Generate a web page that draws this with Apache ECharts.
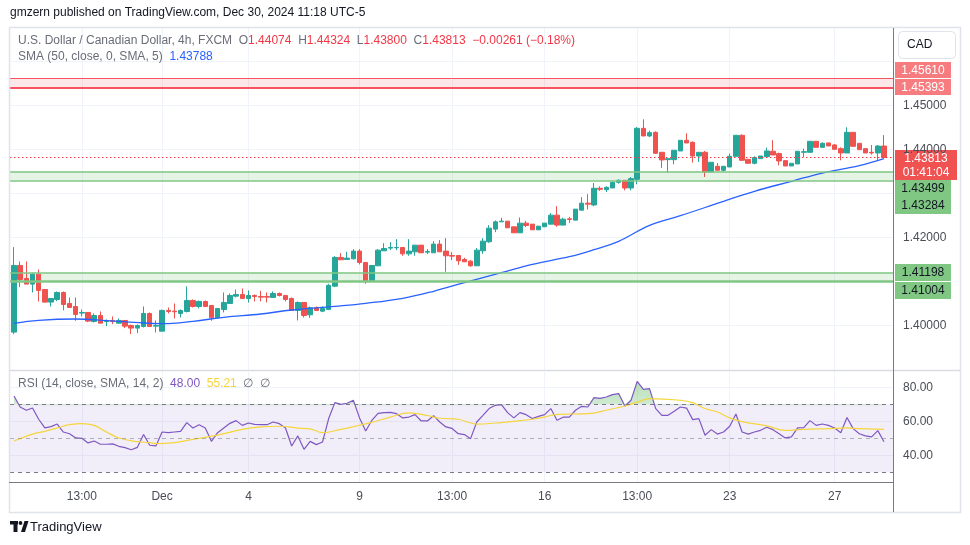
<!DOCTYPE html>
<html>
<head>
<meta charset="utf-8">
<script src="https://cdn.jsdelivr.net/npm/echarts@6/dist/echarts.min.js"></script>
<style>
  html, body { margin: 0; padding: 0; background: #fff; }
  #chart { width: 970px; height: 545px; }
</style>
</head>
<body>
<div id="chart"></div>
<script>
// USD/CAD 4h candles
const opens = [1.39845,1.41360,1.41064,1.40936,1.41163,1.40814,1.40527,1.40587,1.40746,1.40496,1.40428,1.40277,1.40292,1.40087,1.40223,1.40087,1.40110,1.40049,1.40110,1.39996,
  1.39936,1.39973,1.40269,1.39981,1.39867,1.40337,1.40322,1.40269,1.40314,1.40564,1.40428,1.40542,1.40451,1.40170,1.40360,1.40496,1.40663,1.40701,1.40610,1.40678,
  1.40655,1.40655,1.40633,1.40723,1.40678,1.40610,1.40337,1.40519,1.40239,1.40398,1.40322,1.40360,1.40890,1.41542,1.41496,1.41511,1.41686,1.41428,1.41011,1.41352,
  1.41693,1.41754,1.41762,1.41769,1.41625,1.41670,1.41822,1.41663,1.41648,1.41845,1.41686,1.41587,1.41587,1.41496,1.41458,1.41352,1.41693,1.41898,1.42186,1.42352,
  1.42367,1.42239,1.42102,1.42322,1.42299,1.42170,1.42239,1.42299,1.42504,1.42277,1.42420,1.42390,1.42617,1.42776,1.42735,1.43114,1.43083,1.43121,1.43250,1.43295,
  1.43121,1.43318,1.44477,1.44303,1.44386,1.43932,1.43765,1.43765,1.43962,1.44205,1.44159,1.43848,1.43932,1.43485,1.43614,1.43523,1.43598,1.43841,1.44318,1.43773,
  1.43682,1.43788,1.43833,1.43955,1.43902,1.43742,1.43621,1.43667,1.43932,1.43932,1.44182,1.44045,1.44144,1.44098,1.44015,1.43917,1.44386,1.44136,1.44015,1.43932,
  1.43917,1.44074];
const highs = [1.41777,1.41451,1.41451,1.41193,1.41269,1.40814,1.40610,1.40769,1.40769,1.40633,1.40633,1.40360,1.40292,1.40269,1.40314,1.40133,1.40201,1.40155,1.40110,1.40019,
  1.40019,1.40428,1.40292,1.40110,1.40360,1.40405,1.40496,1.40360,1.40883,1.40587,1.40564,1.40564,1.40451,1.40383,1.40746,1.40723,1.40814,1.40837,1.40792,1.40701,
  1.40784,1.40746,1.40769,1.40746,1.40678,1.40633,1.40542,1.40519,1.40428,1.40428,1.40428,1.40943,1.41572,1.41640,1.41670,1.41731,1.41731,1.41428,1.41360,1.41731,
  1.41867,1.41890,1.41958,1.41769,1.41958,1.41822,1.41822,1.41731,1.41913,1.41936,1.41981,1.41663,1.41587,1.41534,1.41481,1.41754,1.41981,1.42277,1.42383,1.42443,
  1.42367,1.42239,1.42451,1.42375,1.42299,1.42254,1.42322,1.42549,1.42708,1.42443,1.42466,1.42640,1.42912,1.42981,1.43235,1.43159,1.43159,1.43273,1.43318,1.43295,
  1.43371,1.44508,1.44682,1.44424,1.44409,1.43932,1.43788,1.43977,1.44205,1.44364,1.44182,1.43932,1.43962,1.43705,1.43689,1.43614,1.43902,1.44318,1.44341,1.43773,
  1.43841,1.43848,1.44038,1.44205,1.43924,1.43742,1.43682,1.43955,1.44015,1.44182,1.44182,1.44159,1.44144,1.44121,1.44045,1.44500,1.44386,1.44136,1.44015,1.44098,
  1.44098,1.44324];
const lows = [1.39799,1.40867,1.40936,1.40746,1.40542,1.40527,1.40428,1.40549,1.40337,1.40405,1.40102,1.40201,1.40072,1.40064,1.40049,1.39981,1.40027,1.40034,1.39936,1.39799,
  1.39822,1.39951,1.39973,1.39837,1.39867,1.40269,1.40155,1.40178,1.40292,1.40405,1.40383,1.40428,1.40102,1.40148,1.40292,1.40496,1.40633,1.40610,1.40519,1.40542,
  1.40542,1.40519,1.40633,1.40655,1.40542,1.40337,1.40110,1.40178,1.40170,1.40322,1.40299,1.40345,1.40867,1.41489,1.41496,1.41496,1.41383,1.40943,1.41011,1.41352,
  1.41693,1.41708,1.41708,1.41580,1.41580,1.41580,1.41648,1.41617,1.41648,1.41670,1.41216,1.41481,1.41375,1.41443,1.41330,1.41352,1.41625,1.41875,1.42117,1.42352,
  1.42216,1.42102,1.42102,1.42231,1.42170,1.42170,1.42239,1.42299,1.42239,1.42277,1.42330,1.42390,1.42617,1.42633,1.42705,1.43053,1.43030,1.43121,1.43220,1.43068,
  1.43068,1.43205,1.44303,1.44280,1.43894,1.43576,1.43462,1.43659,1.43962,1.44144,1.43697,1.43712,1.43371,1.43485,1.43523,1.43485,1.43598,1.43841,1.43735,1.43682,
  1.43659,1.43788,1.43833,1.43871,1.43636,1.43621,1.43621,1.43667,1.43826,1.43932,1.44045,1.44030,1.44076,1.44000,1.43750,1.43917,1.44068,1.43992,1.43917,1.43879,
  1.43750,1.43800];
const closes = [1.41360,1.41042,1.40936,1.41163,1.40792,1.40527,1.40610,1.40746,1.40473,1.40405,1.40246,1.40292,1.40095,1.40223,1.40049,1.40110,1.40087,1.40110,1.39981,1.39936,
  1.39996,1.40269,1.39973,1.39996,1.40337,1.40314,1.40307,1.40337,1.40564,1.40428,1.40542,1.40428,1.40170,1.40383,1.40519,1.40678,1.40701,1.40610,1.40678,1.40655,
  1.40640,1.40640,1.40723,1.40678,1.40587,1.40337,1.40519,1.40223,1.40398,1.40337,1.40383,1.40909,1.41542,1.41489,1.41527,1.41686,1.41428,1.41011,1.41360,1.41708,
  1.41746,1.41769,1.41769,1.41625,1.41686,1.41822,1.41648,1.41678,1.41845,1.41670,1.41580,1.41572,1.41466,1.41443,1.41352,1.41708,1.41913,1.42208,1.42352,1.42367,
  1.42216,1.42102,1.42322,1.42269,1.42170,1.42254,1.42322,1.42504,1.42277,1.42413,1.42405,1.42640,1.42776,1.42754,1.43114,1.43091,1.43136,1.43250,1.43295,1.43121,
  1.43333,1.44477,1.44303,1.44379,1.43909,1.43758,1.43788,1.43977,1.44205,1.44144,1.43848,1.43932,1.43485,1.43705,1.43523,1.43614,1.43841,1.44318,1.43750,1.43682,
  1.43811,1.43848,1.43962,1.43871,1.43735,1.43621,1.43682,1.43955,1.43947,1.44182,1.44045,1.44136,1.44076,1.44000,1.43917,1.44386,1.44068,1.43992,1.43917,1.43917,
  1.44074,1.43813];

// SMA(50) line, sampled along its path [candle index, value]
const smaPoints = [[0,1.40045],[4,1.40114],[10,1.40143],[15,1.40107],[21,1.40052],[24,1.40039],[29,1.40091],[34,1.40182],[40,1.40257],[45,1.40348],
  [52,1.40432],[57,1.40500],[63,1.40614],[68,1.40773],[73,1.40970],[79,1.41198],[84,1.41386],[90,1.41561],[94,1.41720],[98,1.41909],
  [103,1.42273],[108,1.42490],[115,1.42818],[120,1.43045],[126,1.43273],[131,1.43461],[137,1.43630],[141,1.43788]];

// RSI(14) per candle
const rsiValues = [74.9,68.4,66.5,67.8,61.2,56.1,56.9,58.4,53.7,52.7,50.2,50.0,47.3,48.4,46.5,46.5,46.7,45.3,44.5,43.3,
  44.7,52.2,45.9,45.5,53.7,53.3,53.7,54.1,59.2,56.1,58.0,56.1,48.2,53.3,56.1,58.8,60.4,57.6,59.0,58.2,
  58.0,58.0,59.6,58.6,56.1,45.5,51.4,43.5,48.2,46.3,47.8,61.6,71.0,70.0,70.6,72.4,62.0,54.3,60.6,64.7,
  65.1,65.3,64.5,62.0,62.5,63.9,60.2,60.2,63.3,59.6,56.7,55.8,52.7,52.2,49.8,59.6,63.5,67.5,69.4,69.8,
  65.1,62.0,65.1,63.9,61.6,62.9,63.9,67.5,60.6,62.4,62.4,66.5,68.8,68.4,73.9,73.5,74.3,75.7,76.3,69.0,
  72.4,83.5,78.8,79.2,67.5,63.5,63.5,65.9,68.4,67.8,61.0,61.6,51.8,55.1,52.5,53.7,57.1,64.3,53.7,52.5,
  53.7,54.7,56.5,55.1,52.7,50.2,50.8,56.1,56.3,60.4,57.6,58.4,57.6,56.1,53.3,62.2,55.7,52.7,51.4,50.8,
  54.5,48.0];

// RSI-based SMA(14), sampled along its path
const rsiMaPoints = [[0,48.4],[3,52.5],[5,54.1],[7,56.1],[9,58.0],[11,58.6],[13,57.6],[15,53.7],[17,50.2],[20,48.0],
  [22,47.5],[23,46.9],[26,47.5],[29,49.4],[33,51.9],[37,55.3],[40,56.7],[43,57.1],[46,56.0],[48,55.6],
  [50,53.3],[53,55.3],[56,57.7],[58,59.4],[61,62.5],[64,65.0],[67,63.4],[69,61.8],[72,61.2],[75,58.3],
  [78,59.0],[81,60.0],[84,61.2],[86,62.5],[88,64.1],[93,64.5],[96,66.5],[99,69.0],[101,71.3],[103,73.3],
  [108,72.4],[110,71.0],[112,67.5],[114,65.5],[116,62.0],[118,59.8],[122,57.3],[125,54.7],[128,55.3],[132,55.7],
  [135,56.1],[137,55.7],[141,55.21]];

// time axis
const tickIndex = [11, 24, 38, 56, 71, 86, 101, 116, 133];
const tickLabels = ['13:00', 'Dec', '4', '9', '13:00', '16', '13:00', '23', '27'];

// price axis
const priceLabels = [1.40, 1.42, 1.44, 1.45];
const priceGrid = [1.40, 1.41, 1.42, 1.43, 1.44, 1.45, 1.46];
const rsiLabels = [40, 60, 80];
const rsiDashed = [30, 50, 70];

// horizontal zones drawn on the chart
const redZone = [1.45393, 1.45610];
const greenZones = [[1.43284, 1.43499], [1.41004, 1.41198]];

const FONT = '"Liberation Sans", Arial, sans-serif';
const X_MIN = -0.648, X_MAX = 142.46;
const P_MIN = 1.38984, P_MAX = 1.46757;
const R_MIN = 24.3, R_MAX = 89.0;

const last = closes.length - 1;
const candleData = opens.map((o, i) => [i, o, closes[i], lows[i], highs[i]]);
const rsiData = rsiValues.map((v, i) => [i, v]);
const chg = closes[last] - closes[last - 1];
const pct = chg / closes[last - 1] * 100;
const signed = (v, d) => (v < 0 ? '\u2212' : '+') + Math.abs(v).toFixed(d);

const UP = '#26a69a', DOWN = '#ef5350';
const GREEN_LINE = '#81c784', RED_LINE = '#f7525f';

const chart = echarts.init(document.getElementById('chart'));

const option = {
  animation: false,
  backgroundColor: '#fff',
  textStyle: { fontFamily: FONT },
  title: [
    {
      left: 10, top: 7, padding: 0,
      text: 'gmzern published on TradingView.com, Dec 30, 2024 11:18 UTC-5',
      textStyle: { fontSize: 12, fontWeight: 'normal', color: '#131722', fontFamily: FONT }
    },
    {
      left: 18, top: 35, padding: 0,
      text: '{g|U.S. Dollar / Canadian Dollar, 4h, FXCM}  {g|O}{r|' + opens[last].toFixed(5) + '}  {g|H}{r|' + highs[last].toFixed(5) +
        '}  {g|L}{r|' + lows[last].toFixed(5) + '}  {g|C}{r|' + closes[last].toFixed(5) + '}  {r|' + signed(chg, 5) + ' (' + signed(pct, 2) + '%)}',
      textStyle: {
        fontSize: 12, fontWeight: 'normal', color: '#6a6d78', fontFamily: FONT,
        rich: { g: { color: '#6a6d78', fontSize: 12, fontFamily: FONT }, r: { color: '#f23645', fontSize: 12, fontFamily: FONT } }
      }
    },
    {
      left: 18, top: 51, padding: 0,
      text: '{g|SMA (50, close, 0, SMA, 5)}  {b|' + smaPoints[smaPoints.length - 1][1].toFixed(5) + '}',
      textStyle: {
        fontSize: 12, fontWeight: 'normal', color: '#6a6d78', fontFamily: FONT,
        rich: { g: { color: '#6a6d78', fontSize: 12, fontFamily: FONT }, b: { color: '#2962ff', fontSize: 12, fontFamily: FONT } }
      }
    },
    {
      left: 18, top: 378, padding: 0,
      text: '{g|RSI (14, close, SMA, 14, 2)}  {p|' + rsiValues[last].toFixed(2) + '}  {y|' + rsiMaPoints[rsiMaPoints.length - 1][1].toFixed(2) + '}  {g|\u2205  \u2205}',
      textStyle: {
        fontSize: 12, fontWeight: 'normal', color: '#6a6d78', fontFamily: FONT,
        rich: {
          g: { color: '#6a6d78', fontSize: 12, fontFamily: FONT },
          p: { color: '#7e57c2', fontSize: 12, fontFamily: FONT },
          y: { color: '#f5d53c', fontSize: 12, fontFamily: FONT }
        }
      }
    }
  ],
  grid: [
    { left: 10, right: 77, top: 28, height: 342 },
    { left: 10, right: 77, top: 372, height: 110 },
    { left: 10, right: 77, top: 372, height: 32.3 }
  ],
  xAxis: [
    {
      type: 'value', gridIndex: 0, min: X_MIN, max: X_MAX,
      axisLine: { show: false }, axisTick: { show: false, customValues: tickIndex },
      axisLabel: { show: false }, splitLine: { show: true, lineStyle: { color: '#f0f3fa' } }
    },
    {
      type: 'value', gridIndex: 1, min: X_MIN, max: X_MAX,
      axisLine: { show: false }, axisTick: { show: false, customValues: tickIndex },
      axisLabel: {
        customValues: tickIndex, color: '#4a4d57', fontSize: 12, margin: 9, fontFamily: FONT,
        formatter: v => tickLabels[tickIndex.indexOf(Math.round(v))]
      },
      splitLine: { show: true, lineStyle: { color: '#f0f3fa' } }
    },
    { type: 'value', gridIndex: 2, min: X_MIN, max: X_MAX, show: false }
  ],
  yAxis: [
    {
      type: 'value', gridIndex: 0, position: 'right', min: P_MIN, max: P_MAX,
      axisLine: { show: false }, axisTick: { show: false, customValues: priceGrid },
      axisLabel: { customValues: priceLabels, formatter: v => v.toFixed(5), color: '#4a4d57', fontSize: 12, margin: 10, fontFamily: FONT },
      splitLine: { show: true, lineStyle: { color: '#f0f3fa' } }
    },
    {
      type: 'value', gridIndex: 1, position: 'right', min: R_MIN, max: R_MAX,
      axisLine: { show: false }, axisTick: { show: false, customValues: rsiLabels },
      axisLabel: { customValues: rsiLabels, formatter: v => v.toFixed(2), color: '#4a4d57', fontSize: 12, margin: 10, fontFamily: FONT },
      splitLine: { show: true, lineStyle: { color: '#f0f3fa' } }
    },
    { type: 'value', gridIndex: 2, min: 70, max: R_MAX, show: false }
  ],
  series: [
    {
      name: 'levels', type: 'line', xAxisIndex: 0, yAxisIndex: 0, data: [], z: 1, silent: true,
      markArea: {
        silent: true,
        data: [
          [{ yAxis: redZone[0], itemStyle: { color: 'rgba(242,54,69,0.12)' } }, { yAxis: redZone[1] }],
          [{ yAxis: greenZones[0][0], itemStyle: { color: 'rgba(76,175,80,0.14)' } }, { yAxis: greenZones[0][1] }],
          [{ yAxis: greenZones[1][0], itemStyle: { color: 'rgba(76,175,80,0.14)' } }, { yAxis: greenZones[1][1] }]
        ]
      },
      markLine: {
        silent: true, symbol: ['none', 'none'], label: { show: false }, precision: 6,
        data: [
          { yAxis: redZone[1], lineStyle: { color: RED_LINE, width: 1, type: 'solid' } },
          { yAxis: redZone[0], lineStyle: { color: RED_LINE, width: 2, type: 'solid' } },
          { yAxis: greenZones[0][1], lineStyle: { color: GREEN_LINE, width: 1.5, type: 'solid' } },
          { yAxis: greenZones[0][0], lineStyle: { color: GREEN_LINE, width: 1.5, type: 'solid' } },
          { yAxis: greenZones[1][1], lineStyle: { color: GREEN_LINE, width: 1.5, type: 'solid' } },
          { yAxis: greenZones[1][0], lineStyle: { color: GREEN_LINE, width: 2.5, type: 'solid' } },
          { yAxis: closes[last], lineStyle: { color: '#f23645', width: 1, type: [1.5, 2.5] } }
        ]
      }
    },
    {
      name: 'USDCAD', type: 'candlestick', xAxisIndex: 0, yAxisIndex: 0, z: 2,
      dimensions: ['idx', 'open', 'close', 'lowest', 'highest'],
      encode: { x: 'idx', y: ['open', 'close', 'lowest', 'highest'] },
      data: candleData,
      barWidth: 5,
      itemStyle: { color: UP, color0: DOWN, borderColor: UP, borderColor0: DOWN, borderWidth: 1 }
    },
    {
      name: 'SMA', type: 'line', xAxisIndex: 0, yAxisIndex: 0, z: 3,
      data: smaPoints, smooth: 0.4, showSymbol: false,
      lineStyle: { color: '#2962ff', width: 1.3 }
    },
    {
      name: 'rsiBand', type: 'line', xAxisIndex: 1, yAxisIndex: 1, data: [], z: 1, silent: true,
      markArea: {
        silent: true,
        data: [[{ yAxis: rsiDashed[0], itemStyle: { color: 'rgba(126,87,194,0.1)' } }, { yAxis: rsiDashed[2] }]]
      },
      markLine: {
        silent: true, symbol: ['none', 'none'], label: { show: false }, precision: 4,
        data: [
          { yAxis: rsiDashed[0], lineStyle: { color: '#787b86', width: 1, type: [4, 4] } },
          { yAxis: rsiDashed[1], lineStyle: { color: 'rgba(120,123,134,0.55)', width: 1, type: [4, 4] } },
          { yAxis: rsiDashed[2], lineStyle: { color: '#787b86', width: 1, type: [4, 4] } }
        ]
      }
    },
    {
      name: 'overbought', type: 'line', xAxisIndex: 2, yAxisIndex: 2, z: 2, silent: true,
      data: rsiData, showSymbol: false, lineStyle: { opacity: 0 },
      areaStyle: {
        origin: 'start',
        color: new echarts.graphic.LinearGradient(0, 0, 0, 1, [
          { offset: 0, color: 'rgba(76,175,80,0.55)' },
          { offset: 1, color: 'rgba(76,175,80,0.06)' }
        ])
      }
    },
    {
      name: 'RSI', type: 'line', xAxisIndex: 1, yAxisIndex: 1, z: 3,
      data: rsiData, showSymbol: false, lineStyle: { color: '#7e57c2', width: 1.2 }
    },
    {
      name: 'RSI MA', type: 'line', xAxisIndex: 1, yAxisIndex: 1, z: 3,
      data: rsiMaPoints, smooth: 0.4, showSymbol: false, lineStyle: { color: '#f5d53c', width: 1.2 }
    }
  ]
};

chart.setOption(option);

// price tags on the right axis, stacked the way TradingView does it
function tag(value, text, bg, fg, dy, w, h) {
  const y = chart.convertToPixel({ yAxisIndex: 0 }, value) + dy;
  return {
    type: 'group', x: 895, y: Math.round(y - h / 2), z: 100,
    children: [
      { type: 'rect', shape: { x: 0, y: 0, width: w, height: h }, style: { fill: bg } },
      { type: 'text', x: w / 2, y: h / 2 + 0.5, style: { text: text, fill: fg, font: '12px ' + FONT, align: 'center', verticalAlign: 'middle', lineHeight: 14 } }
    ]
  };
}

const graphics = [
  { type: 'rect', shape: { x: 9.5, y: 27.5, width: 951, height: 485 }, style: { fill: 'none', stroke: '#e0e3eb', lineWidth: 1.5 }, z: 50 },
  { type: 'line', shape: { x1: 9, y1: 370.5, x2: 960, y2: 370.5 }, style: { stroke: '#d9dce3', lineWidth: 1.5 }, z: 50 },
  { type: 'line', shape: { x1: 9, y1: 482.5, x2: 893, y2: 482.5 }, style: { stroke: '#787b86', lineWidth: 1 }, z: 50 },
  { type: 'line', shape: { x1: 893.5, y1: 28, x2: 893.5, y2: 512 }, style: { stroke: '#787b86', lineWidth: 1 }, z: 50 },
  { type: 'rect', shape: { x: 898.5, y: 31.5, width: 57, height: 27, r: 4 }, style: { fill: '#fff', stroke: '#e0e3eb', lineWidth: 1 }, z: 50 },
  { type: 'text', x: 907, y: 45, style: { text: 'CAD', fill: '#131722', font: '12px ' + FONT, verticalAlign: 'middle' }, z: 51 },
  // TradingView logo
  { type: 'rect', shape: { x: 10, y: 521, width: 8, height: 3.5 }, style: { fill: '#131722' } },
  { type: 'rect', shape: { x: 13.5, y: 521, width: 4, height: 11 }, style: { fill: '#131722' } },
  { type: 'circle', shape: { cx: 20.5, cy: 523, r: 1.9 }, style: { fill: '#131722' } },
  { type: 'polygon', shape: { points: [[21, 532], [24.5, 521], [28.5, 521], [25, 532]] }, style: { fill: '#131722' } },
  { type: 'text', x: 30, y: 527, style: { text: 'TradingView', fill: '#131722', font: '13px ' + FONT, verticalAlign: 'middle' } },
  tag(redZone[1], redZone[1].toFixed(5), '#f77c80', '#fff', -8.5, 56, 16),
  tag(redZone[0], redZone[0].toFixed(5), '#f77c80', '#fff', -0.7, 56, 16),
  tag(greenZones[0][1], greenZones[0][1].toFixed(5), '#81c784', '#131722', 17, 56, 17),
  tag(greenZones[0][0], greenZones[0][0].toFixed(5), '#81c784', '#131722', 25, 56, 17),
  tag(greenZones[1][1], greenZones[1][1].toFixed(5), '#81c784', '#131722', 0, 56, 17),
  tag(greenZones[1][0], greenZones[1][0].toFixed(5), '#81c784', '#131722', 9, 56, 17),
  tag(closes[last], closes[last].toFixed(5) + '\n01:41:04', '#f05252', '#fff', 7, 62, 30)
];

chart.setOption({ graphic: graphics });
</script>
</body>
</html>
